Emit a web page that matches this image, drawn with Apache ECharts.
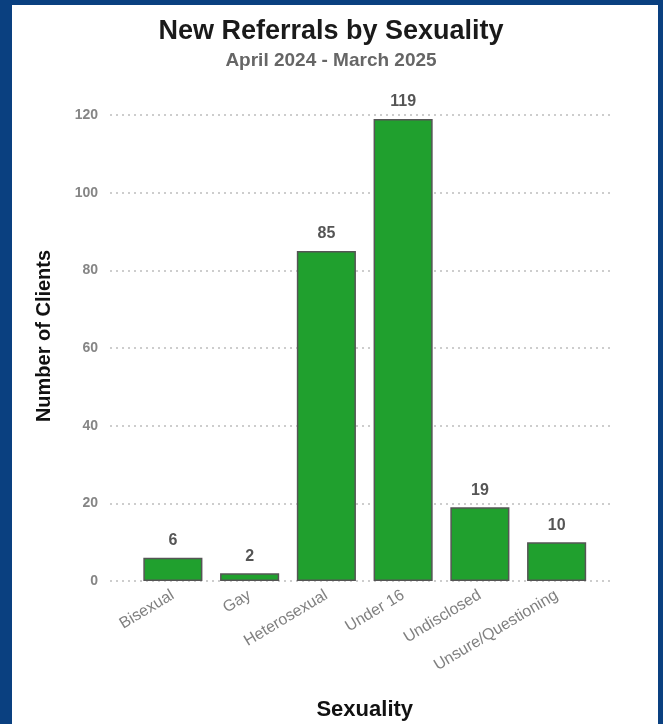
<!DOCTYPE html>
<html>
<head>
<meta charset="utf-8">
<script src="https://cdn.jsdelivr.net/npm/echarts@6/dist/echarts.min.js"></script>
<style>
  html, body { margin: 0; padding: 0; background: #0a4080; }
  #frame { position: absolute; left: 12px; top: 5px; right: 5px; bottom: 0; background: #ffffff; }
  #chart { position: absolute; left: 0; top: 0; width: 663px; height: 724px; }
</style>
</head>
<body>
<div id="frame"></div>
<div id="chart"></div>
<script>
// Referral counts by sexuality, April 2024 - March 2025
const categories = ['Bisexual', 'Gay', 'Heterosexual', 'Under 16', 'Undisclosed', 'Unsure/Questioning'];
const clients = [6, 2, 85, 119, 19, 10];
const yTicks = [0, 20, 40, 60, 80, 100, 120];

const yMin = yTicks[0];
const yMax = yTicks[yTicks.length - 1];
const tickStep = yTicks[1] - yTicks[0];

const chart = echarts.init(document.getElementById('chart'), null, { renderer: 'canvas' });

const font = 'Liberation Sans, Arial, Helvetica, sans-serif';

chart.setOption({
  backgroundColor: 'transparent',
  animation: false,
  title: [
    {
      text: 'New Referrals by Sexuality',
      left: 326, top: 13, textAlign: 'center',
      textStyle: { fontFamily: font, fontSize: 27, fontWeight: 'bold', color: '#1a1a1a' }
    },
    {
      text: 'April 2024 - March 2025',
      left: 326, top: 46, textAlign: 'center',
      textStyle: { fontFamily: font, fontSize: 19, fontWeight: 'bold', color: '#666666' }
    }
  ],
  grid: [
    // wide grid carrying the value axis and dotted guide lines
    { left: 110, right: 51, top: 115, bottom: 143, outerBoundsMode: 'none', containLabel: false },
    // narrower grid holding the category bands
    { left: 134.5, right: 68, top: 115, bottom: 143, outerBoundsMode: 'none', containLabel: false }
  ],
  xAxis: [
    { type: 'value', gridIndex: 0, min: 0, max: 1, show: false },
    {
      type: 'category', gridIndex: 1, data: categories,
      axisLine: { show: false }, axisTick: { show: false },
      axisLabel: {
        interval: 0, rotate: 31, margin: 13,
        fontFamily: font, fontSize: 16, color: '#808080'
      },
      name: 'Sexuality', nameLocation: 'middle', nameGap: 118,
      nameTextStyle: { fontFamily: font, fontSize: 22, fontWeight: 'bold', color: '#111111' }
    }
  ],
  yAxis: [
    {
      type: 'value', gridIndex: 0, min: yMin, max: yMax, interval: tickStep,
      axisLine: { show: false }, axisTick: { show: false },
      axisLabel: {
        fontFamily: font, fontSize: 14, fontWeight: 'bold', color: '#858585', margin: 12
      },
      splitLine: { show: true, lineStyle: { type: [2, 4], color: '#bdbdbd', width: 1.5 } },
      name: 'Number of Clients', nameLocation: 'middle', nameGap: 56, nameRotate: 90,
      nameTextStyle: {
        fontFamily: font, fontSize: 20, fontWeight: 'bold', color: '#111111',
        padding: [0, 0, 0, 24]
      }
    },
    {
      type: 'value', gridIndex: 1, min: yMin, max: yMax, interval: tickStep,
      show: false, splitLine: { show: false }
    }
  ],
  series: [
    {
      type: 'bar', xAxisIndex: 1, yAxisIndex: 1,
      data: clients,
      barWidth: '77%',
      itemStyle: { color: '#20a02e', borderColor: '#555555', borderWidth: 1.5 },
      label: {
        show: true, position: 'top', distance: 9,
        fontFamily: font, fontSize: 16, fontWeight: 'bold', color: '#555555'
      }
    }
  ]
});
</script>
</body>
</html>
